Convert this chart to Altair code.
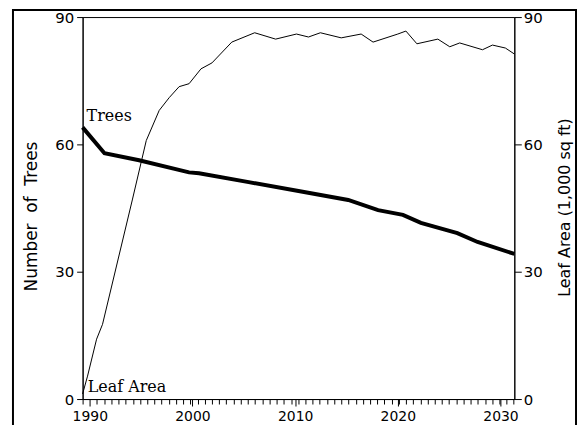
import altair as alt
import pandas as pd

# ---- data ----
tree_years = [1989.3, 1991.43, 1994.8, 1999.67, 2000.64, 2005.48, 2010.33, 2015.17,
              2018.08, 2020.5, 2022.25, 2025.8, 2027.77, 2031.35]
tree_counts = [64.0, 57.9, 56.25, 53.4, 53.2, 51.1, 49.0, 46.9,
               44.5, 43.4, 41.5, 39.1, 37.0, 34.2]

leaf_years = [1989.3, 1989.78, 1990.66, 1991.24, 1994.14, 1995.5, 1996.76, 1997.73,
              1998.7, 1999.67, 2000.83, 2001.9, 2003.83, 2006.06, 2008.1, 2010.13,
              2011.3, 2012.46, 2014.49, 2016.43, 2017.59, 2020.0, 2020.79, 2021.86,
              2023.9, 2025.06, 2026.03, 2028.25, 2029.22, 2030.48, 2031.35]
leaf_area = [1.2, 5.4, 14.1, 17.6, 46.9, 60.9, 68.0, 71.0,
             73.6, 74.3, 77.8, 79.2, 84.1, 86.3, 84.8, 86.0,
             85.3, 86.3, 85.1, 86.0, 84.1, 86.0, 86.7, 83.7,
             84.8, 83.0, 83.9, 82.3, 83.4, 82.7, 81.3]

decade_ticks = [1990, 2000, 2010, 2020, 2030]
minor_ticks = [round(1989.3 + 0.7 * k, 2) for k in range(61)]
y_ticks = [0, 30, 60, 90]

label_text = ["Trees", "Leaf Area"]
label_x = [1989.69, 1989.8]
label_y = [65.6, 1.6]

x_domain = [1989.3, 2031.35]
y_domain = [0, 90]

# ---- tables ----
df_trees = pd.DataFrame({"year": tree_years, "trees": tree_counts})
df_leaf = pd.DataFrame({"year": leaf_years, "leaf": leaf_area})
df_lab = pd.DataFrame({"year": label_x, "val": label_y, "text": label_text})

xs = alt.Scale(domain=x_domain, nice=False, zero=False)
ys = alt.Scale(domain=y_domain, nice=False, zero=True)

AX = dict(domainColor="black", tickColor="black", labelColor="black",
          titleColor="black", grid=False, labelFont="DejaVu Sans",
          titleFont="DejaVu Sans", titleFontWeight="normal")

all_x_ticks = sorted(set(minor_ticks + decade_ticks))
decade_test = "indexof(" + str(decade_ticks) + ", datum.value) >= 0"

trees = alt.Chart(df_trees).mark_line(color="black", strokeWidth=4).encode(
    x=alt.X("year:Q", scale=xs,
            axis=alt.Axis(orient="bottom", values=all_x_ticks, tickCount=500,
                          tickMinStep=0.05,
                          labelExpr=decade_test + " ? format(datum.value, 'd') : ''",
                          labelOverlap=False, labelFlush=False,
                          tickSize={"condition": {"test": decade_test, "value": 7},
                                    "value": 5},
                          labelPadding=4, labelFontSize=14,
                          labelBaseline="top", title=None, **AX)),
    y=alt.Y("trees:Q", scale=ys,
            axis=alt.Axis(orient="left", values=y_ticks, tickSize=6,
                          labelPadding=3, labelFontSize=15,
                          title="Number\u00a0\u00a0of\u00a0\u00a0Trees",
                          titleFontSize=17, titleAngle=270, titleX=-46,
                          titleY=200, titleBaseline="alphabetic",
                          titleAlign="center", **AX)),
)

leaf = alt.Chart(df_leaf).mark_line(color="black", strokeWidth=1).encode(
    x=alt.X("year:Q", scale=xs),
    y=alt.Y("leaf:Q", scale=ys,
            axis=alt.Axis(orient="right", values=y_ticks, tickSize=7,
                          labelPadding=2, labelFontSize=15,
                          title="Leaf Area (1,000 sq ft)",
                          titleFontSize=16, titleAngle=270, titleX=55,
                          titleY=191, titleBaseline="alphabetic",
                          titleAlign="center", **AX)),
)

labels = alt.Chart(df_lab).mark_text(
    align="left", baseline="alphabetic", font="DejaVu Serif", fontSize=16,
    color="black").encode(
    x=alt.X("year:Q", scale=xs),
    y=alt.Y("val:Q", scale=ys, axis=None),
    text="text:N",
)

# outer frame of the figure (decoration)
frame_left = alt.Chart().mark_rule(color="black", strokeWidth=2).encode(
    x=alt.value(-70), y=alt.value(-8), y2=alt.value(410))
frame_right = alt.Chart().mark_rule(color="black", strokeWidth=2).encode(
    x=alt.value(496), y=alt.value(-8), y2=alt.value(410))
frame_top = alt.Chart().mark_rule(color="black", strokeWidth=2).encode(
    y=alt.value(-7), x=alt.value(-70), x2=alt.value(496))

chart = alt.layer(trees, leaf, labels, frame_left, frame_right, frame_top).resolve_scale(
    y="independent"
).properties(
    width=434, height=384,
    padding={"left": 75, "top": 8, "right": 63, "bottom": 26},
    autosize=alt.AutoSizeParams(type="none"),
    background="white",
).configure_view(stroke="black", strokeWidth=1)

chart.save("out.html", embed_options={"renderer": "svg", "actions": False})
